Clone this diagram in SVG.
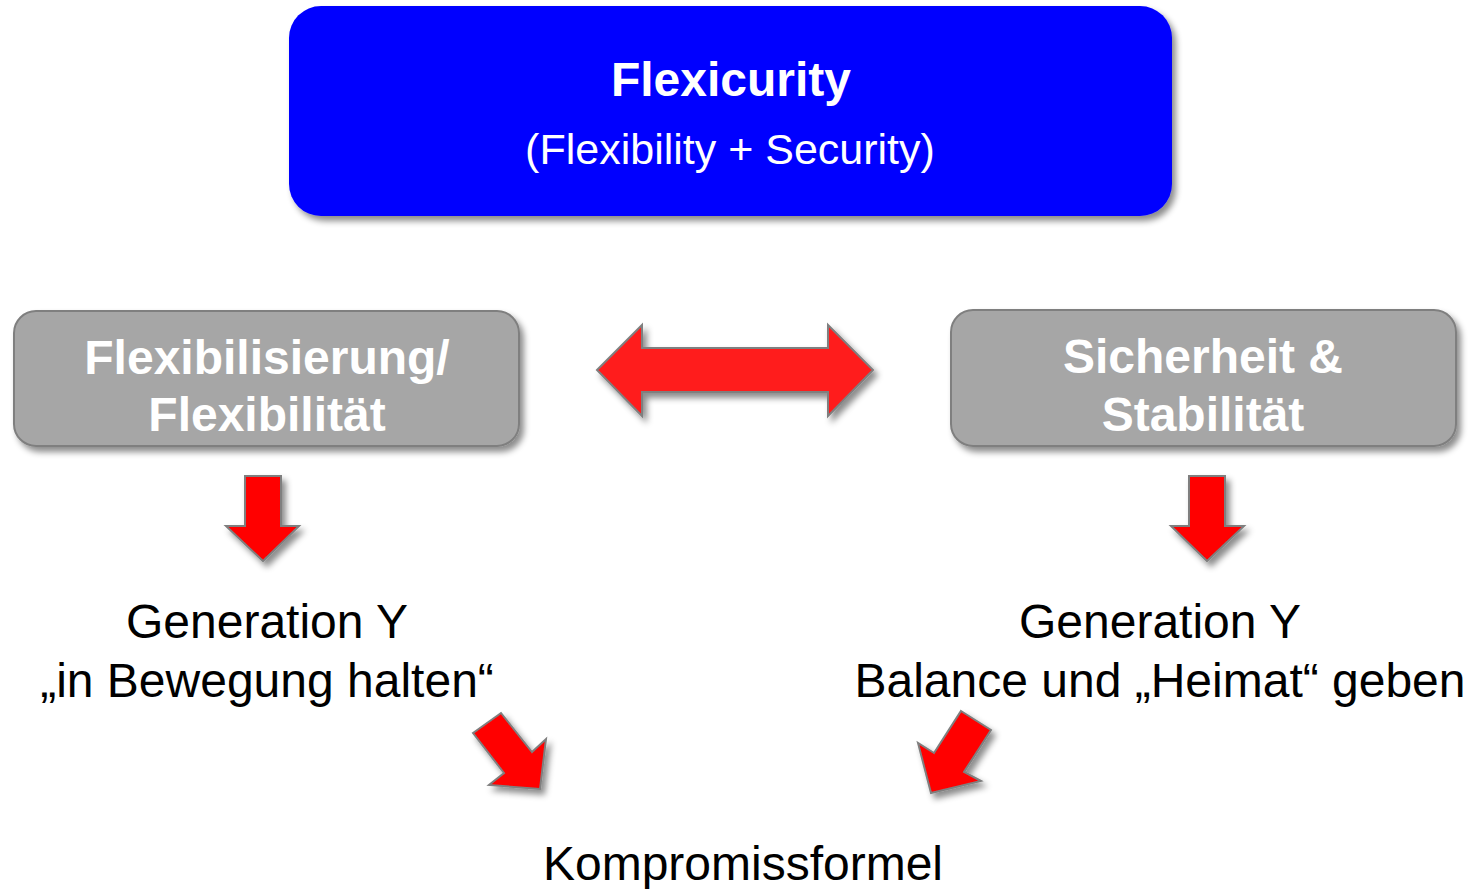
<svg xmlns="http://www.w3.org/2000/svg" width="1471" height="889" viewBox="0 0 1471 889">
<defs>
<filter id="sh" x="-20%" y="-20%" width="140%" height="150%">
<feDropShadow dx="4" dy="5" stdDeviation="3" flood-color="#000" flood-opacity="0.45"/>
</filter>
</defs>
<style>
.t{font-family:"Liberation Sans",Arial,sans-serif;text-anchor:middle}
.b{font-weight:bold;fill:#fff}
.k{fill:#000;font-size:48px}
.gray{fill:#a6a6a6;stroke:#7f7f7f;stroke-width:2}
.arr{fill:#ff0000;stroke:#7f7f7f;stroke-width:2;stroke-linejoin:miter}
</style>
<rect width="1471" height="889" fill="#fff"/>
<g id="flexicurity">
<rect x="289" y="6" width="883" height="210" rx="32" fill="#0000ff" filter="url(#sh)"/>
<text class="t b" x="731" y="96" font-size="48">Flexicurity</text>
<text class="t" x="730" y="164" font-size="43" fill="#fff">(Flexibility + Security)</text>
</g>
<g id="flexibilisierung">
<rect class="gray" x="14" y="311" width="505" height="135" rx="22" filter="url(#sh)"/>
<text class="t b" x="267" y="374" font-size="48">Flexibilisierung/</text>
<text class="t b" x="267" y="431" font-size="48">Flexibilität</text>
</g>
<g id="sicherheit">
<rect class="gray" x="951" y="310" width="505" height="136" rx="22" filter="url(#sh)"/>
<text class="t b" x="1203" y="373" font-size="48">Sicherheit &amp;</text>
<text class="t b" x="1203" y="431" font-size="48">Stabilität</text>
</g>
<g id="gen-y-left">
<text class="t k" x="267" y="638">Generation Y</text>
<text class="t k" x="267" y="697">„in Bewegung halten“</text>
</g>
<g id="gen-y-right">
<text class="t k" x="1160" y="638">Generation Y</text>
<text class="t k" x="1160" y="697">Balance und „Heimat“ geben</text>
</g>
<g id="kompromiss">
<text class="t k" x="743" y="880">Kompromissformel</text>
</g>
<g id="connectors">
<polygon class="arr" style="fill:#ff1c1c" filter="url(#sh)" points="597,370 642,325 642,348 828,348 828,325 873,370 828,416 828,392 642,392 642,416"/>
<polygon class="arr" filter="url(#sh)" points="245,476 281,476 281,526 299,526 263,561 226,526 245,526"/>
<polygon class="arr" filter="url(#sh)" points="1189,476 1225,476 1225,526 1244,526 1207,561 1171,526 1189,526"/>
<polygon class="arr" filter="url(#sh)" points="473,733 501,713 532,752 546,739 540,789 489,785 504,773"/>
<polygon class="arr" filter="url(#sh)" points="961,711 991,730 964,772 981,781 931,793 918,743 934,753"/>
</g>
</svg>
